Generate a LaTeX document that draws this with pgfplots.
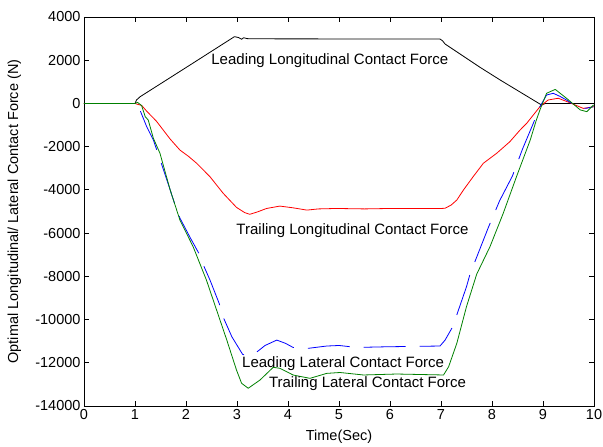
\documentclass[border=0pt]{standalone}
\usepackage{pgfplots}
\pgfplotsset{compat=1.18}
\usepackage{fontspec}
\setmainfont{Liberation Sans}

\definecolor{mblue}{rgb}{0,0,1}
\definecolor{mgreen}{rgb}{0,0.5,0}
\definecolor{mred}{rgb}{1,0,0}

\begin{document}
\begin{tikzpicture}
\begin{axis}[
  scale only axis,
  width=510bp, height=389bp,
  xmin=0, xmax=10, ymin=-14000, ymax=4000,
  xtick={0,1,...,10},
  ytick={-14000,-12000,...,4000},
  scaled y ticks=false,
  /pgf/number format/assume math mode=true,
  /pgf/number format/set thousands separator={},
  tick align=inside,
  major tick length=5bp,
  axis line style={line width=0.9bp},
  every tick/.style={black, line width=0.8bp},
  ticklabel style={font=\fontsize{14.5bp}{16bp}\selectfont},
  label style={font=\fontsize{14.5bp}{17bp}\selectfont},
  xlabel={Time(Sec)},
  ylabel={Optimal Longitudinal/ Lateral Contact Force (N)},
  xlabel style={at={(axis description cs:0.5,-0.0797)}, anchor=center},
  ylabel style={at={(axis description cs:-0.1363,0.5)}, anchor=center},
  every axis plot/.append style={line width=0.8bp, line join=round},
]
\coordinate (bl) at (rel axis cs:0,0);
\coordinate (tr) at (rel axis cs:1,1);

% leading longitudinal contact force
\addplot[black] coordinates {
(0,0) (1.0,0) (1.03,160) (1.1,310) (2.08,1780) (2.95,3090) (3.03,3050)
(3.09,2970) (3.13,3040) (3.2,3000) (3.3,2990) (6.98,2980) (7.03,2900)
(7.08,2750) (7.76,1680) (8.16,1085) (8.97,-70) (9.05,0) (10,0)
};

% trailing longitudinal contact force
\addplot[mred] coordinates {
(0,0) (1.0,0) (1.05,-40) (1.13,-90) (1.23,-360) (1.42,-820) (1.69,-1650)
(1.88,-2155) (2.05,-2450) (2.21,-2770) (2.47,-3390) (2.73,-4160)
(2.99,-4810) (3.15,-5050) (3.25,-5130) (3.4,-5020) (3.58,-4860)
(3.84,-4750) (4.1,-4830) (4.37,-4935) (4.6,-4880) (4.95,-4860)
(5.5,-4880) (6.0,-4860) (6.5,-4860) (7.0,-4860) (7.08,-4850)
(7.2,-4700) (7.31,-4470) (7.44,-4005) (7.63,-3390) (7.83,-2770)
(8.09,-2310) (8.35,-1770) (8.55,-1230) (8.68,-920) (8.94,-150)
(9.10,160) (9.30,240) (9.53,30) (9.79,-230) (10.0,-150)
};

% leading lateral contact force
\addplot[mblue, dash pattern=on 42bp off 14bp, dash phase=51bp] coordinates {
(0,0) (1.0,0) (1.05,-50) (1.11,-380) (1.23,-1080) (1.36,-1690)
(1.56,-3080) (1.78,-4650) (1.88,-5300) (2.08,-6200) (2.27,-7010)
(2.34,-7475) (2.47,-8170) (2.65,-9250) (2.73,-9895) (2.9,-10800)
(3.11,-11610) (3.2,-11680) (3.37,-11535) (3.55,-11200) (3.78,-10950)
(3.95,-11100) (4.10,-11290) (4.40,-11330) (4.76,-11225) (5.0,-11200)
(5.35,-11290) (5.93,-11260) (6.5,-11240) (6.98,-11225) (7.08,-10950)
(7.23,-10330) (7.50,-8480) (7.57,-7890) (7.93,-5730) (8.15,-4500)
(8.40,-3360) (8.60,-2100) (8.81,-920) (8.94,-150) (9.07,390)
(9.20,470) (9.33,330) (9.46,160) (9.6,-50) (9.73,-225) (9.86,-220)
(9.99,-150)
};

% trailing lateral contact force
\addplot[mgreen] coordinates {
(0,0) (1.0,0) (1.05,50) (1.13,-100) (1.2,-610) (1.26,-770) (1.36,-1610)
(1.49,-2310) (1.69,-4005) (1.88,-5390) (2.14,-6630) (2.4,-8170)
(2.6,-9560) (2.8,-10950) (2.99,-12335) (3.09,-12950) (3.22,-13180)
(3.45,-12800) (3.71,-12210) (3.84,-12255) (4.10,-12565) (4.43,-12720)
(4.76,-12490) (5.02,-12450) (5.48,-12565) (6.13,-12520) (7.05,-12565)
(7.15,-12180) (7.31,-11100) (7.50,-9400) (7.70,-7900) (7.96,-6630)
(8.22,-5085) (8.48,-3390) (8.75,-1690) (8.87,-765) (8.94,-300)
(9.07,470) (9.24,650) (9.46,240) (9.73,-300) (9.86,-380) (9.99,-70)
};

\begin{scope}[every node/.style={font=\fontsize{15bp}{18bp}\selectfont, inner sep=0pt}]
\node at (axis cs:4.82,1964) {Leading Longitudinal Contact Force};
\node at (axis cs:5.265,-5903) {Trailing Longitudinal Contact Force};
\node at (axis cs:5.08,-12025) {Leading Lateral Contact Force};
\node at (axis cs:5.56,-12950) {Trailing Lateral Contact Force};
\end{scope}
\end{axis}
\pgfresetboundingbox
\path (bl) ++(-84bp,-41bp) rectangle ([shift={(9bp,17bp)}]tr);
\end{tikzpicture}
\end{document}
